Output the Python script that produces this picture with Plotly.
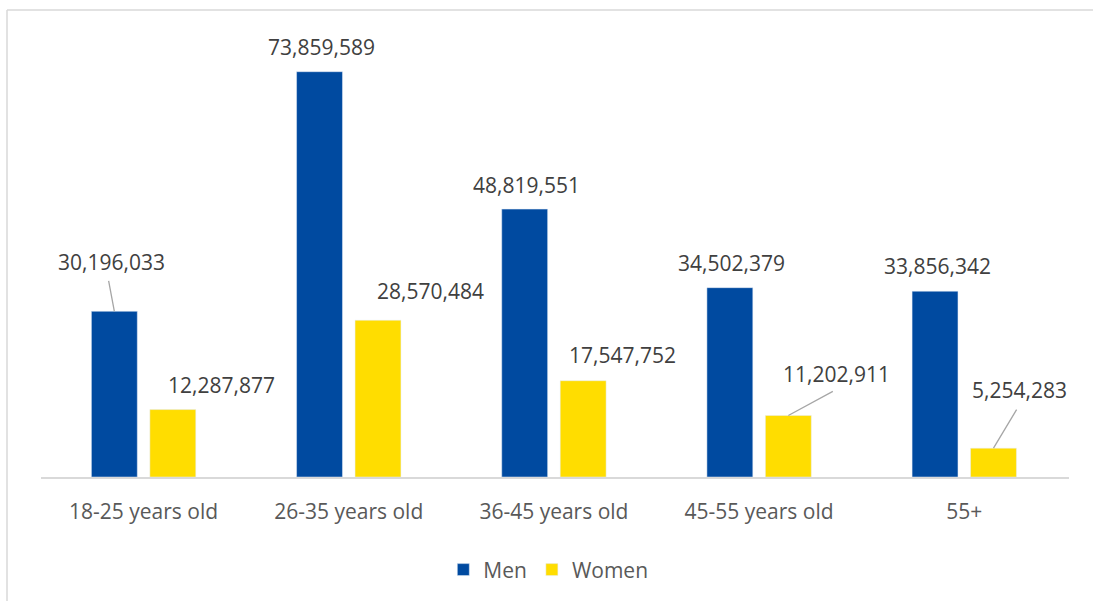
import plotly.graph_objects as go

categories = ["18-25 years old", "26-35 years old", "36-45 years old", "45-55 years old", "55+"]
men = [30196033, 73859589, 48819551, 34502379, 33856342]
women = [12287877, 28570484, 17547752, 11202911, 5254283]

MEN_COLOR = "#004AA0"
WOMEN_COLOR = "#FFDD00"
FONT = "Open Sans, Segoe UI, DejaVu Sans, sans-serif"
BARGAP = 0.43
GROUPGAP = 0.215

# label offsets (pixels) from the top-centre of each bar: (dx, dy)
men_label_off = [(-3, -49), (2, -25), (2, -24), (2, -25), (2, -25)]
women_label_off = [(49, -25), (53, -29), (39, -26), (48, -42), (26, -58)]
# leader lines: (series, index, dx, dy) of the line start relative to bar top
leaders = [("men", 0, -6, -32), ("women", 3, 46, -25), ("women", 4, 24, -40)]

fig = go.Figure()
fig.add_trace(go.Bar(name="Men", x=categories, y=men, marker_color=MEN_COLOR))
fig.add_trace(go.Bar(name="Women", x=categories, y=women, marker_color=WOMEN_COLOR))

half = (1 - BARGAP) / 4
annotations = []
for series, vals, sign, offs in (("men", men, -1, men_label_off), ("women", women, 1, women_label_off)):
    for i, v in enumerate(vals):
        dx, dy = offs[i]
        annotations.append(dict(
            x=i + sign * half, y=v, xref="x", yref="y",
            text=f"{v:,}", showarrow=False,
            xanchor="center", yanchor="middle",
            xshift=dx, yshift=-dy,
            font=dict(family=FONT, size=21, color="#404040"),
        ))
for series, i, dx, dy in leaders:
    vals = men if series == "men" else women
    sign = -1 if series == "men" else 1
    annotations.append(dict(
        x=i + sign * half, y=vals[i], xref="x", yref="y",
        text="", showarrow=True, arrowhead=0, arrowwidth=1.3,
        arrowcolor="#A6A6A6", ax=dx, ay=dy, standoff=0, startstandoff=0,
    ))

W, H = 1093, 601
L, R, T, B = 41, 24, 38, 123
pw, ph = W - L - R, H - T - B
bx = (7 - L) / pw          # border left in paper coords
by = (H - B - 10) / ph     # border top in paper coords

fig.update_layout(
    width=W, height=H,
    margin=dict(l=L, r=R, t=T, b=B),
    paper_bgcolor="white", plot_bgcolor="white",
    barmode="group", bargap=BARGAP, bargroupgap=GROUPGAP,
    font=dict(family=FONT, size=21, color="#595959"),
    showlegend=True,
    legend=dict(orientation="h", x=0.4935, xanchor="center", y=-0.209, yanchor="middle",
                font=dict(family=FONT, size=21, color="#595959"), itemwidth=30),
    annotations=annotations,
    shapes=[
        dict(type="line", xref="paper", yref="paper", x0=bx, x1=1.05, y0=by, y1=by,
             line=dict(color="#D9D9D9", width=1.5)),
        dict(type="line", xref="paper", yref="paper", x0=bx, x1=bx, y0=by, y1=-0.3,
             line=dict(color="#D9D9D9", width=1.5)),
    ],
)
fig.update_xaxes(type="category", showline=True, linecolor="#D9D9D9", linewidth=2,
                 showgrid=False, ticks="", ticklabelstandoff=15,
                 tickfont=dict(family=FONT, size=21, color="#595959"))
fig.update_yaxes(range=[0, 80000000], showticklabels=False, showgrid=False, zeroline=False, showline=False)

fig.write_html("out.html", config={"displayModeBar": False},
               post_script="document.body.style.margin='0';")
